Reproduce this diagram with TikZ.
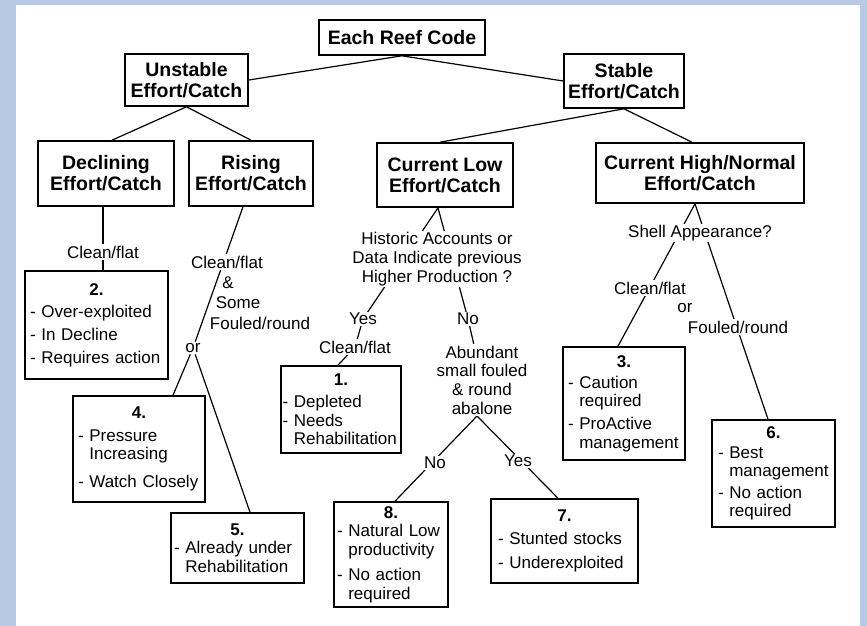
\documentclass[tikz,border=0pt]{standalone}
\usepackage{fontspec}
\setmainfont{Liberation Sans}
\pgfdeclarelayer{bg}
\pgfdeclarelayer{edges}
\pgfsetlayers{bg,edges,main}
\definecolor{frameblue}{RGB}{183,201,228}
\newcommand\hdfont{\fontsize{19.5}{21}\selectfont\bfseries}
\newcommand\bdfont{\fontsize{17}{18.5}\selectfont}
\newcommand\boxnum[1]{\makebox[\linewidth]{\bfseries #1}}
\newcommand\myind{\phantom{- }}
\tikzset{
  hbox/.style={draw, line width=1.6pt, align=center, font=\hdfont, inner sep=2pt},
  rbox/.style={draw, line width=1.6pt, align=left, font=\bdfont, inner ysep=2pt},
  lab/.style={fill=white, inner sep=1.5pt, font=\bdfont},
  plain/.style={inner sep=1pt, font=\bdfont},
  conn/.style={line width=1.2pt}
}
\begin{document}
\begin{tikzpicture}[x=1pt,y=-1pt]
\useasboundingbox (0,0) rectangle (867,626);
\begin{pgfonlayer}{bg}
\fill[frameblue] (0,0) rectangle (867,626);
\fill[white] (16,5) rectangle (860,626);
\end{pgfonlayer}

% heading boxes
\node[hbox, minimum width=166pt, minimum height=35pt] (root) at (402,37.5) {Each Reef Code};
\node[hbox, minimum width=123pt, minimum height=52pt] (uns) at (186.5,80) {Unstable\\Effort/Catch};
\node[hbox, minimum width=120pt, minimum height=54pt] (sta) at (624,81) {Stable\\Effort/Catch};
\node[hbox, minimum width=136pt, minimum height=65pt] (dec) at (106,173.5) {Declining\\Effort/Catch};
\node[hbox, minimum width=124pt, minimum height=65pt] (ris) at (251,173.5) {Rising\\Effort/Catch};
\node[hbox, minimum width=136pt, minimum height=64pt] (cl) at (445,175) {Current Low\\Effort/Catch};
\node[hbox, minimum width=208pt, minimum height=60pt] (ch) at (700,173) {Current High/Normal\\Effort/Catch};

% result boxes
\node[rbox, inner xsep=5pt, text width=133pt, minimum height=108pt] (b2) at (96.5,325)
  {\boxnum{2.}\\[3.5pt] - Over-exploited\\[4.5pt] - In Decline\\[4.5pt] - Requires action};
\node[rbox, inner xsep=5pt, text width=122pt, minimum height=106pt] (b4) at (139,449)
  {\boxnum{4.}\\[4.5pt] - Pressure\\ \myind Increasing\\[9.5pt] - Watch Closely};
\node[rbox, inner xsep=3pt, text width=127pt, minimum height=70pt] (b5) at (237.5,548)
  {\boxnum{5.}\\ - Already under\\ \myind Rehabilitation};
\node[rbox, inner xsep=1.5pt, text width=117pt, minimum height=87pt] (b1) at (341,409.5)
  {\boxnum{1.}\\[3.5pt] - Depleted\\ - Needs\\ \myind Rehabilitation};
\node[rbox, inner xsep=3pt, text width=108pt, minimum height=105pt] (b8) at (391,554.5)
  {\boxnum{8.}\\ - Natural Low\\ \myind productivity\\[7pt] - No action\\ \myind required};
\node[rbox, inner xsep=7pt, text width=133pt, minimum height=84pt] (b7) at (564.5,541)
  {\boxnum{7.}\\[4.5pt] - Stunted stocks\\[5.5pt] - Underexploited};
\node[rbox, inner xsep=5pt, text width=112pt, minimum height=113pt] (b3) at (624,403.5)
  {\boxnum{3.}\\[2.5pt] - Caution\\ \myind required\\[4.5pt] - ProActive\\ \myind management};
\node[rbox, inner xsep=6pt, text width=111pt, minimum height=107pt] (b6) at (773.5,473.5)
  {\boxnum{6.}\\[1.5pt] - Best\\ \myind management\\[3pt] - No action\\ \myind required};

% labels
\node[lab] (dcf) at (103,252) {Clean/flat};
\node[lab] (rcf) at (227,262) {Clean/flat};
\node[plain] (ramp) at (228,283) {\&};
\node[plain] (rsome) at (238,303) {Some};
\node[plain] (rfr) at (260,323) {Fouled/round};
\node[lab] (ror) at (193,348) {or};
\node[lab, align=center, font=\fontsize{17}{19}\selectfont] (hist) at (437,259)
  {Historic Accounts or\\Data Indicate previous\\Higher Production ?};
\node[lab] (yes1) at (363,319) {Yes};
\node[lab] (cf1) at (355,347) {Clean/flat};
\node[lab] (no1) at (468,319) {No};
\node[lab, align=center, font=\fontsize{17}{18.7}\selectfont] (abun) at (482,380)
  {Abundant\\small fouled\\\& round\\abalone};
\node[lab] (no2) at (435,463) {No};
\node[lab] (yes2) at (518,461) {Yes};
\node[lab] (shell) at (700,233) {Shell Appearance?};
\node[lab] (cf3) at (650,288) {Clean/flat};
\node[plain] (or3) at (685,308) {or};
\node[lab] (fr3) at (738,327) {Fouled/round};

% connectors
\begin{pgfonlayer}{edges}
\draw[conn] (root.south) -- (uns.east);
\draw[conn] (root.south) -- (sta.west);
\draw[conn] (uns.south) -- ([xshift=6pt]dec.north);
\draw[conn] (uns.south) -- (ris.north);
\draw[conn] (sta.south) -- ([xshift=-5pt]cl.north);
\draw[conn] (sta.south) -- ([xshift=-8pt]ch.north);
\draw[conn] (dec.south -| dcf) -- (b2.north -| dcf);
\draw[conn] ([xshift=-8pt]ris.south) -- (ror);
\draw[conn] (ror) -- ([xshift=34pt]b4.north);
\draw[conn] (ror) -- ([xshift=12.5pt]b5.north);
\draw[conn] ([xshift=-7pt]cl.south) -- (yes1.center) -- (cf1.center) -- ([xshift=-3pt]b1.north);
\draw[conn] ([xshift=-7pt]cl.south) -- (no1.center) -- (abun.center);
\draw[conn] ([xshift=-5pt]abun.south) -- ([xshift=4pt]b8.north);
\draw[conn] ([xshift=-5pt]abun.south) -- ([xshift=-6.5pt]b7.north);
\draw[conn] ([xshift=-5pt]ch.south) -- ([xshift=-6pt]b3.north);
\draw[conn] ([xshift=-5pt]ch.south) -- ([xshift=-5.5pt]b6.north);
\end{pgfonlayer}
\end{tikzpicture}
\end{document}
